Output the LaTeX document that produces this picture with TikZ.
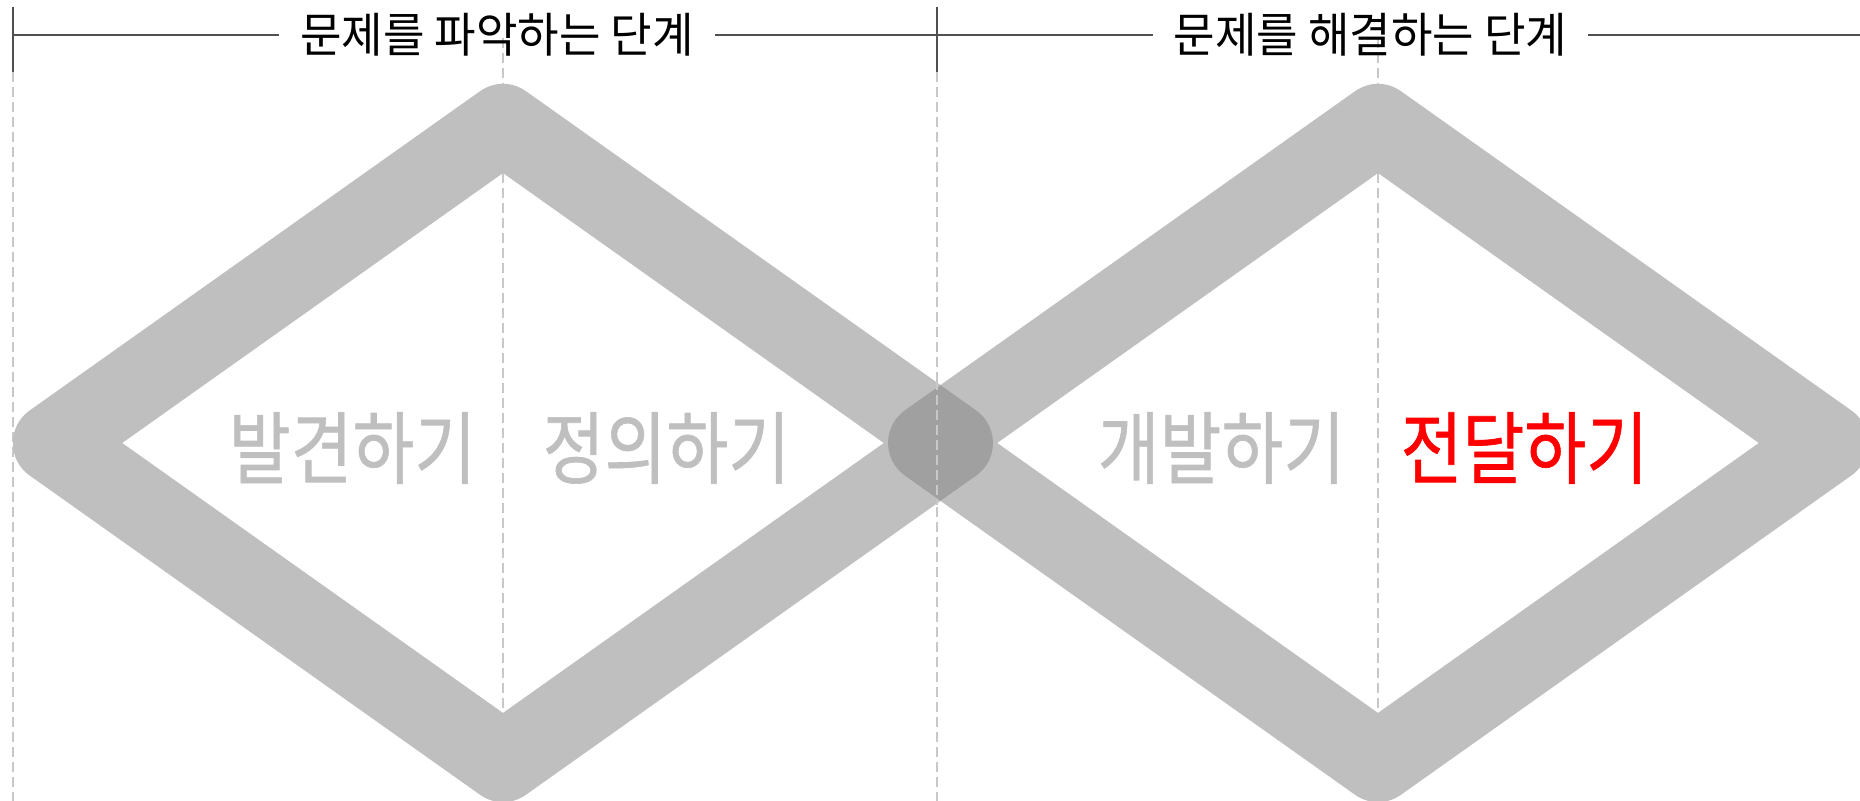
\documentclass[tikz,border=0pt]{standalone}
\usepackage{fontspec}
\usetikzlibrary{calc}
\newfontfamily\krfont{Noto Sans CJK KR}
\newfontfamily\krlabel{Noto Sans CJK KR}[FakeBold=0.8]
\definecolor{bandgray}{HTML}{BFBFBF}
\definecolor{overgray}{HTML}{A0A0A0}
\definecolor{guidegray}{HTML}{C8C8C8}
\definecolor{rulegray}{HTML}{505050}
\begin{document}
\begin{tikzpicture}[x=0.01cm, y=-0.01cm, line join=round,
		band/.style={draw=bandgray, line width=0.8cm, line join=round},
		guide/.style={draw=guidegray, line width=0.5pt, dash pattern=on 0.1cm off 0.05cm},
		rule/.style={draw=rulegray, line width=0.5pt},
		head/.style={font=\krfont\fontsize{13.5pt}{16pt}\selectfont, inner sep=0.2cm},
		phase/.style={font=\krlabel\fontsize{22.5pt}{26pt}\selectfont, inner sep=0pt, text=bandgray}]
	\useasboundingbox (0,0) rectangle (1860,801);
	\clip (0,0) rectangle (1860,801);
	\path 
	(12.7,35) coordinate (TL)
	(937,35) coordinate (TM)
	(1860,35) coordinate (TR)
	(503,443) coordinate (P)
	(1378,443) coordinate (Q)
	;
	% guides
	\foreach \x/\y in {12.7/72,503/38,937/72,1378/38}
	\draw[guide] (\x,\y) -- (\x,801);
	% diamonds
	\draw[band] ($(P)+(-450,0)$) -- ($(P)+(0,-319)$) -- ($(P)+(450,0)$) -- ($(P)+(0,319)$) -- cycle;
	\draw[band] ($(Q)+(-450,0)$) -- ($(Q)+(0,-319)$) -- ($(Q)+(450,0)$) -- ($(Q)+(0,319)$) -- cycle;
	\fill[overgray] (940.5,385.2) -- (976.1,410.4) arc[start angle=-54.67, end angle=54.67, radius=40]
	-- (940.5,500.8) -- (904.9,475.6) arc[start angle=125.33, end angle=234.67, radius=40] -- cycle;
	\draw[guide] (937,380) -- (937,505);
	% top
	\node[head] (find) at (497,35) {\scalebox{0.95}[1]{문제를 파악하는 단계}};
	\node[head] (solve) at (1370.5,35) {\scalebox{0.95}[1]{문제를 해결하는 단계}};
	\draw[rule] (TL) -- (find.west) (find.east) -- (TM) -- (solve.west) (solve.east) -- (TR);
	\draw[rule] (12.7,7) -- (12.7,72) (937,7) -- (937,72);
	% phases
	\node[phase, anchor=east] (discover) at (477,448) {\scalebox{0.85}[1]{발견하기}};
	\node[phase, anchor=west] (define) at (542,448) {\scalebox{0.85}[1]{정의하기}};
	\node[phase, anchor=east] (develop) at (1346,448) {\scalebox{0.85}[1]{개발하기}};
	\node[phase, anchor=west, text=red] (deliver) at (1400,448) {\scalebox{0.85}[1]{전달하기}};
\end{tikzpicture}
\end{document}
